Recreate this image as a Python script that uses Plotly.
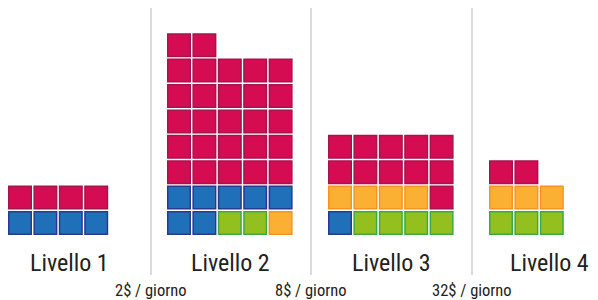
import plotly.graph_objects as go

# ---- data: squares per level, rows listed bottom -> top, left -> right ----
levels = ["Livello 1", "Livello 2", "Livello 3", "Livello 4"]
livello1_rows = [["B", "B", "B", "B"],
                 ["R", "R", "R", "R"]]
livello2_rows = [["B", "B", "G", "G", "O"],
                 ["B", "B", "B", "B", "B"],
                 ["R", "R", "R", "R", "R"],
                 ["R", "R", "R", "R", "R"],
                 ["R", "R", "R", "R", "R"],
                 ["R", "R", "R", "R", "R"],
                 ["R", "R", "R", "R", "R"],
                 ["R", "R"]]
livello3_rows = [["B", "G", "G", "G", "G"],
                 ["O", "O", "O", "O", "R"],
                 ["R", "R", "R", "R", "R"],
                 ["R", "R", "R", "R", "R"]]
livello4_rows = [["G", "G", "G"],
                 ["O", "O", "O"],
                 ["R", "R"]]
price_labels = ["2$ / giorno", "8$ / giorno", "32$ / giorno"]

# ---- styling / layout ----
fills = {"R": "#D50C52", "B": "#1F70B8", "G": "#93C01F", "O": "#FBB034"}
lines = {"R": "#A3154F", "B": "#283A8E", "G": "#3BAA46", "O": "#F7941D"}
block_left = [20, 179, 340, 501]      # centre of first column, px
label_x = [69, 230.5, 391, 549]
separator_x = [151, 311, 472]
pitch = 25.4
bottom_y = 223

all_rows = [livello1_rows, livello2_rows, livello3_rows, livello4_rows]

pts = {k: ([], []) for k in fills}
for li, rows in enumerate(all_rows):
    for r, row in enumerate(rows):
        for c, key in enumerate(row):
            pts[key][0].append(block_left[li] + c * pitch)
            pts[key][1].append(bottom_y - r * pitch)

fig = go.Figure()
for key in ["R", "B", "G", "O"]:
    xs, ys = pts[key]
    fig.add_trace(go.Scatter(
        x=xs, y=ys, mode="markers", hoverinfo="skip", showlegend=False,
        marker=dict(symbol="square", size=22.5, color=fills[key],
                    line=dict(color=lines[key], width=1.5))))

for sx in separator_x:
    fig.add_shape(type="line", x0=sx, x1=sx, y0=3, y1=275, xref="x", yref="y",
                  line=dict(color="#CFCFCF", width=1.5), layer="below")

font_family = "Roboto Condensed, Roboto, sans-serif"
for name, lx in zip(levels, label_x):
    fig.add_annotation(x=lx, y=263, text=name, showarrow=False, xref="x", yref="y",
                       xanchor="center", yanchor="middle",
                       font=dict(family=font_family, size=24, color="#222222"))
for txt, sx in zip(price_labels, separator_x):
    fig.add_annotation(x=sx, y=290, text=txt, showarrow=False, xref="x", yref="y",
                       xanchor="center", yanchor="middle",
                       font=dict(family=font_family, size=16.5, color="#222222"))

# page body has an 8px margin: size/range chosen so 1 unit == 1 screen px
fig.update_layout(
    width=590, height=292, margin=dict(l=0, r=0, t=0, b=0),
    paper_bgcolor="white", plot_bgcolor="white",
    xaxis=dict(range=[8, 598], visible=False, fixedrange=True),
    yaxis=dict(range=[300, 8], visible=False, fixedrange=True),
)
fig.write_html("out.html")
